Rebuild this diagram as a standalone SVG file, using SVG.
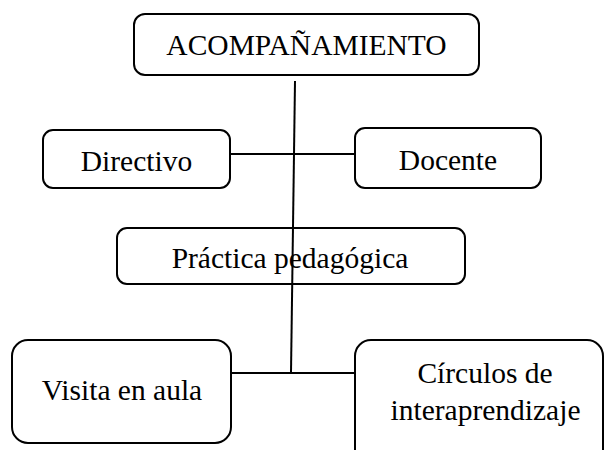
<svg xmlns="http://www.w3.org/2000/svg" width="605" height="450" viewBox="0 0 605 450">
<style>
.box{fill:#fff;stroke:#000;stroke-width:2}
.lbl{font-family:"Liberation Serif","Times New Roman",serif;font-size:29.5px;fill:#000;text-anchor:middle}
.conn{stroke:#000;stroke-width:2;fill:none}
</style>
<rect width="605" height="450" fill="#fff"/>
<g id="acompanamiento">
<rect class="box" x="134" y="14" width="345" height="61" rx="11"/>
<text class="lbl" x="306.5" y="55">ACOMPAÑAMIENTO</text>
</g>
<g id="directivo">
<rect class="box" x="43" y="130" width="187" height="58" rx="10"/>
<text class="lbl" x="136.5" y="171">Directivo</text>
</g>
<g id="docente">
<rect class="box" x="355" y="128" width="186" height="60" rx="10"/>
<text class="lbl" x="448" y="170">Docente</text>
</g>
<g id="practica">
<rect class="box" x="117" y="228" width="348" height="56" rx="10"/>
<text class="lbl" x="290" y="268">Práctica pedagógica</text>
</g>
<g id="visita">
<rect class="box" x="12" y="340" width="219" height="103" rx="16"/>
<text class="lbl" x="122" y="400">Visita en aula</text>
</g>
<g id="circulos">
<rect class="box" x="355" y="340" width="248" height="125" rx="16"/>
<text class="lbl" x="485" y="383">Círculos de</text>
<text class="lbl" x="485.5" y="420">interaprendizaje</text>
</g>
<g id="connectors">
<line class="conn" x1="230" y1="154" x2="355" y2="154"/>
<line class="conn" x1="231" y1="373" x2="355" y2="373"/>
<line class="conn" x1="295" y1="81" x2="291" y2="373"/>
</g>
</svg>
